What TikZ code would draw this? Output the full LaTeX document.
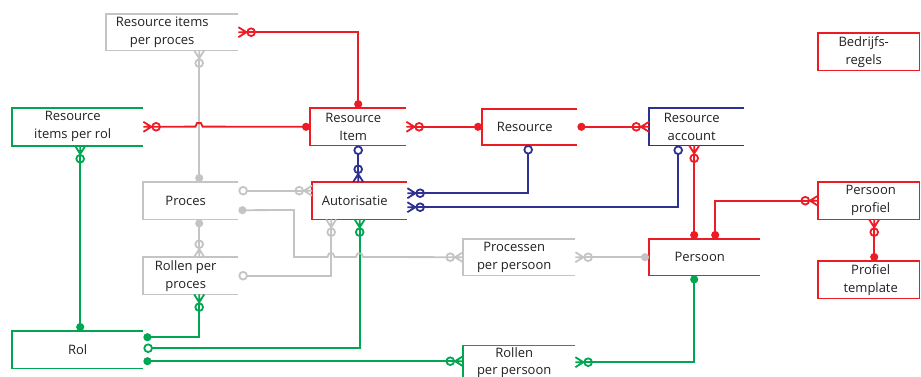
\documentclass[tikz,border=0pt]{standalone}
\usepackage{fontspec}
\setmainfont{Open Sans}
\usetikzlibrary{arrows.meta}

\definecolor{erred}{HTML}{ED1C24}
\definecolor{ergreen}{HTML}{00A651}
\definecolor{erblue}{HTML}{2E3192}
\definecolor{ergrey}{HTML}{C4C4C4}
\definecolor{ertext}{HTML}{231F20}

\pgfdeclarearrow{
  name = crow,
  parameters = {\the\pgfarrowlength,\the\pgfarrowwidth},
  setup code = {
    \pgfarrowssettipend{0pt}
    \pgfarrowssetbackend{-\pgfarrowlength}
    \pgfarrowssetlineend{-\pgfarrowlength}
    \pgfarrowssetvisualbackend{-\pgfarrowlength}
    \pgfarrowssavethe\pgfarrowlength
    \pgfarrowssavethe\pgfarrowwidth
  },
  drawing code = {
    \pgfsetdash{}{0pt}
    \pgfpathmoveto{\pgfqpoint{-\pgfarrowlength}{0pt}}
    \pgfpathlineto{\pgfqpoint{0pt}{.5\pgfarrowwidth}}
    \pgfpathmoveto{\pgfqpoint{-\pgfarrowlength}{0pt}}
    \pgfpathlineto{\pgfqpoint{0pt}{0pt}}
    \pgfpathmoveto{\pgfqpoint{-\pgfarrowlength}{0pt}}
    \pgfpathlineto{\pgfqpoint{0pt}{-.5\pgfarrowwidth}}
    \pgfusepathqstroke
  },
  defaults = {length=8pt,width=10pt}
}

\tikzset{
  one/.tip={Circle[length=8pt,width=8pt]},
  zero/.tip={Circle[open,length=9.5pt,width=9.5pt]}
}

\begin{document}
\begin{tikzpicture}[x=1pt,y=-1pt,
  ent/.style={anchor=north west,inner sep=0pt},
  etxt/.style={align=center,text=ertext,xshift=-5pt,font=\fontsize{13}{18}\selectfont},
  rel/.style={line width=1.8pt}]
\useasboundingbox (0,0) rectangle (921,376);
\clip (0,0) rectangle (921,376);

\node[ent,minimum width=132pt,minimum height=36pt,
  label={[etxt,xshift=-5pt]center:{Resource items\\per proces}}] (rip) at (106,14) {};
\node[ent,minimum width=131pt,minimum height=38pt,
  label={[etxt]center:{Resource\\items per rol}}] (rir) at (12,107.6) {};
\node[ent,minimum width=96pt,minimum height=37pt,
  label={[etxt]center:{Resource\\Item}}] (ri) at (310,108.1) {};
\node[ent,minimum width=95pt,minimum height=36pt,
  label={[etxt]center:Resource}] (res) at (482,108.6) {};
\node[ent,minimum width=95pt,minimum height=37pt,
  label={[etxt]center:{Resource\\account}}] (ra) at (649,108.1) {};
\node[ent,minimum width=101pt,minimum height=37pt,
  label={[etxt]center:{Bedrijfs-\\regels}}] (br) at (818,33) {};
\node[ent,minimum width=95pt,minimum height=37pt,
  label={[etxt]center:Proces}] (pr) at (143,182) {};
\node[ent,minimum width=95pt,minimum height=37pt,
  label={[etxt]center:Autorisatie}] (aut) at (312,182) {};
\node[ent,minimum width=95pt,minimum height=37pt,
  label={[etxt]center:{Rollen per\\proces}}] (rpp) at (143,257) {};
\node[ent,minimum width=112pt,minimum height=36pt,
  label={[etxt]center:{Processen\\per persoon}}] (ppp) at (463,239) {};
\node[ent,minimum width=111pt,minimum height=36pt,
  label={[etxt]center:Persoon}] (pers) at (649,239) {};
\node[ent,minimum width=101pt,minimum height=37pt,
  label={[etxt,xshift=7pt]center:{Persoon\\profiel}}] (pp) at (818,182) {};
\node[ent,minimum width=101pt,minimum height=37pt,
  label={[etxt,xshift=7pt]center:{Profiel\\template}}] (pt) at (818,261) {};
\node[ent,minimum width=131pt,minimum height=37pt,
  label={[etxt,xshift=5pt]center:Rol}] (rol) at (12,331) {};
\node[ent,minimum width=112pt,minimum height=36pt,
  label={[etxt,yshift=1pt,font=\fontsize{13}{16.5}\selectfont]center:{Rollen\\per persoon}}] (rpers) at (463,345.5) {};

\foreach \n/\c in {rip/ergrey,rir/ergreen,ri/erred,res/erred,ra/erblue,pr/ergrey,aut/erred,
    rpp/ergrey,ppp/ergrey,pers/erred,rol/ergreen,rpers/ergreen}
  \draw[rel,\c] (\n.north east) -- (\n.north west) -- (\n.south west) -- (\n.south east);
\foreach \n in {br,pp,pt}
  \draw[rel,erred] (\n.north west) rectangle (\n.south east);

\draw[rel,ergrey,{crow[] zero[]}-one] ([xshift=27pt]rip.south) -- ([xshift=8.5pt]pr.north);
\draw[rel,ergreen,{crow[] zero[]}-one] ([xshift=2.5pt]rir.south) -- ([xshift=2.5pt]rol.north);
\draw[rel,erred,{crow[] zero[]}-one] (rip.east) -| (ri.north);
\draw[rel,erred,{crow[] zero[]}-one] (rir.east) -- (195.5,126.6) -- ++(1.5,-3.5)
  -- ++(4,0) -- ++(1.5,3.5) -- (ri.west);
\draw[rel,erred,{crow[] zero[]}-one] (ri.east) -- (res.west);
\draw[rel,erred,one-{zero[] crow[]}] (res.east) -- (ra.west);
\draw[rel,erblue,zero-{zero[] crow[]}] (ri.south) -- (ri.south |- aut.north);
\draw[rel,erblue,zero-{zero[] crow[]}] ([xshift=-1.5pt]res.south) |- ([yshift=7.5pt]aut.east);
\draw[rel,erblue,zero-{zero[] crow[]}] ([xshift=-18.5pt]ra.south) |- ([yshift=-6.5pt]aut.east);
\draw[rel,erred,{crow[] zero[]}-one] ([xshift=-2.5pt]ra.south) -- ([xshift=-2.5pt]ra.south |- pers.north);
\draw[rel,erred,{crow[] zero[]}-one] (pp.west) -| ([xshift=10.5pt]pers.north);
\draw[rel,erred,{crow[] zero[]}-one] ([xshift=5.5pt]pp.south) -- ([xshift=5.5pt]pt.north);
\draw[rel,ergrey,zero-{zero[] crow[]}] ([yshift=10pt]pr.east) -- ([yshift=10pt]pr.east -| aut.west);
\draw[rel,ergrey,one-{zero[] crow[]}] ([xshift=8.5pt]pr.south) -- ([xshift=8.5pt]rpp.north);
\draw[rel,ergrey,{crow[] zero[]}-zero] ([xshift=-28.5pt]aut.south) |- (rpp.east);
\draw[rel,ergreen,{crow[] zero[]}-zero] (aut.south) |- ([yshift=1.5pt]rol.east);
\draw[rel,ergrey,one-{zero[] crow[]}] ([yshift=-9.5pt]pr.east) -- (294,210)
  -- (294,257) -- (327.5,257) -- ++(1.5,-3.5) -- ++(4,0) -- ++(1.5,3.5) -- (356,257)
  -- ++(1.5,-3.5) -- ++(4,0) -- ++(1.5,3.5) -- (ppp.west);
\draw[rel,ergrey,{crow[] zero[]}-one] (ppp.east) -- (pers.west);
\draw[rel,ergreen,{crow[] zero[]}-one] ([xshift=8.5pt]rpp.south) |- ([yshift=12.5pt]rol.east);
\draw[rel,ergreen,one-{zero[] crow[]}] ([yshift=-11.5pt]rol.east) -- ([yshift=-11.5pt]rol.east -| rpers.west);
\draw[rel,ergreen,{crow[] zero[]}-one] ([yshift=1.5pt]rpers.east) -| ([xshift=-10.5pt]pers.south);
\end{tikzpicture}
\end{document}
